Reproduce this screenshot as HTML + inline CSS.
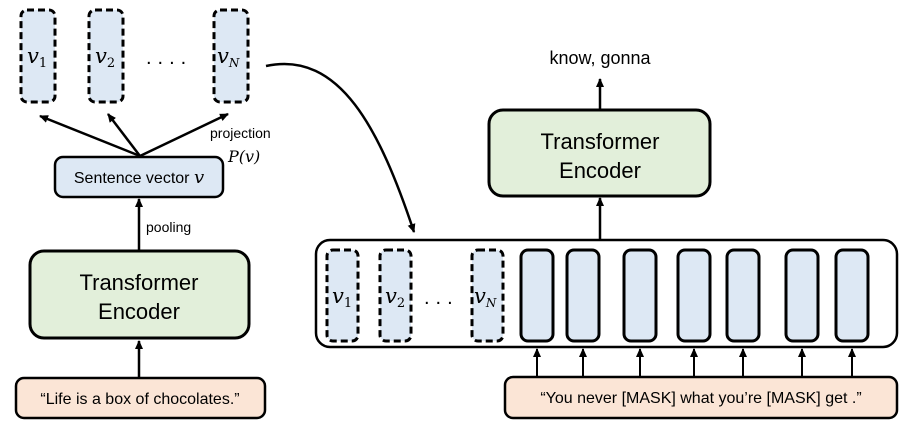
<!DOCTYPE html>
<html><head><meta charset="utf-8"><style>
body{margin:0;background:#fff}
svg text{font-family:"Liberation Sans",sans-serif}
.m{font-family:"DejaVu Serif",serif;font-style:italic}
</style></head><body>
<svg width="902" height="432" viewBox="0 0 902 432" xmlns="http://www.w3.org/2000/svg">
<defs><marker id="a" markerWidth="10" markerHeight="10" refX="8" refY="5" orient="auto" markerUnits="userSpaceOnUse"><path d="M0,1 L9,5 L0,9 z" fill="#000"/></marker></defs>
<g stroke="#000" stroke-width="3" fill="#dde8f4" stroke-dasharray="7,4">
<rect x="21" y="10" width="34" height="92" rx="6"/>
<rect x="89" y="10" width="34" height="92" rx="6"/>
<rect x="214" y="10" width="34" height="92" rx="6"/>
</g>
<text class="m" x="27" y="63" font-size="21">v<tspan font-size="13" dy="4" font-style="normal">1</tspan></text>
<text class="m" x="95" y="63" font-size="21">v<tspan font-size="13" dy="4" font-style="normal">2</tspan></text>
<text class="m" x="217" y="63" font-size="21">v<tspan font-size="12" dy="4">N</tspan></text>
<text x="146" y="64" font-size="20" letter-spacing="6">....</text>
<g stroke="#000" stroke-width="2.5" marker-end="url(#a)">
<line x1="140" y1="156" x2="40" y2="116"/>
<line x1="140" y1="156" x2="108" y2="114"/>
<line x1="140" y1="156" x2="228" y2="114"/>
<line x1="139" y1="250" x2="139" y2="199"/>
<line x1="139" y1="377" x2="139" y2="341"/>
<line x1="600" y1="240" x2="600" y2="198"/>
<line x1="600" y1="109" x2="600" y2="79"/>
</g>
<text x="210" y="138" font-size="14">projection</text>
<text class="m" x="228" y="162" font-size="16">P(v)</text>
<rect x="55" y="157" width="168" height="40" rx="8" fill="#dde8f4" stroke="#000" stroke-width="2.5"/>
<text x="139" y="183" font-size="16" text-anchor="middle">Sentence vector <tspan class="m" font-size="18">v</tspan></text>
<text x="146" y="232" font-size="14">pooling</text>
<rect x="30" y="251" width="219" height="87" rx="14" fill="#e2efda" stroke="#000" stroke-width="3"/>
<text x="139" y="290" font-size="22" text-anchor="middle">Transformer</text>
<text x="139" y="319" font-size="22" text-anchor="middle">Encoder</text>
<rect x="16" y="378" width="249" height="40" rx="8" fill="#fbe5d6" stroke="#000" stroke-width="2.5"/>
<text x="140" y="404" font-size="16" text-anchor="middle">“Life is a box of chocolates.”</text>
<path d="M266,66 C340,50 380,130 414,232" fill="none" stroke="#000" stroke-width="2.5" marker-end="url(#a)"/>
<text x="600" y="64" font-size="18" text-anchor="middle">know, gonna</text>
<rect x="489" y="110" width="221" height="86" rx="14" fill="#e2efda" stroke="#000" stroke-width="3"/>
<text x="600" y="149" font-size="22" text-anchor="middle">Transformer</text>
<text x="600" y="178" font-size="22" text-anchor="middle">Encoder</text>
<rect x="316" y="240" width="581" height="107" rx="14" fill="#fff" stroke="#000" stroke-width="2.5"/>
<g stroke="#000" stroke-width="3" fill="#dde8f4" stroke-dasharray="7,4">
<rect x="327" y="250" width="31" height="91" rx="6"/>
<rect x="380" y="250" width="31" height="91" rx="6"/>
<rect x="472" y="250" width="31" height="91" rx="6"/>
</g>
<text class="m" x="332" y="303" font-size="21">v<tspan font-size="13" dy="4" font-style="normal">1</tspan></text>
<text class="m" x="385" y="303" font-size="21">v<tspan font-size="13" dy="4" font-style="normal">2</tspan></text>
<text class="m" x="474" y="303" font-size="21">v<tspan font-size="12" dy="4">N</tspan></text>
<text x="424" y="304" font-size="20" letter-spacing="6">...</text>
<g stroke="#000" stroke-width="3" fill="#dde8f4">
<rect x="521" y="250" width="32" height="91" rx="7"/>
<rect x="567" y="250" width="32" height="91" rx="7"/>
<rect x="624" y="250" width="32" height="91" rx="7"/>
<rect x="678" y="250" width="32" height="91" rx="7"/>
<rect x="727" y="250" width="32" height="91" rx="7"/>
<rect x="786" y="250" width="32" height="91" rx="7"/>
<rect x="836" y="250" width="32" height="91" rx="7"/>
</g>
<g stroke="#000" stroke-width="2" marker-end="url(#a)">
<line x1="537" y1="377" x2="537" y2="349"/>
<line x1="583" y1="377" x2="583" y2="349"/>
<line x1="640" y1="377" x2="640" y2="349"/>
<line x1="694" y1="377" x2="694" y2="349"/>
<line x1="743" y1="377" x2="743" y2="349"/>
<line x1="802" y1="377" x2="802" y2="349"/>
<line x1="852" y1="377" x2="852" y2="349"/>
</g>
<rect x="505" y="377" width="392" height="41" rx="8" fill="#fbe5d6" stroke="#000" stroke-width="2.5"/>
<text x="701" y="403" font-size="16" text-anchor="middle">“You never [MASK] what you’re [MASK] get .”</text>
</svg>
</body></html>
